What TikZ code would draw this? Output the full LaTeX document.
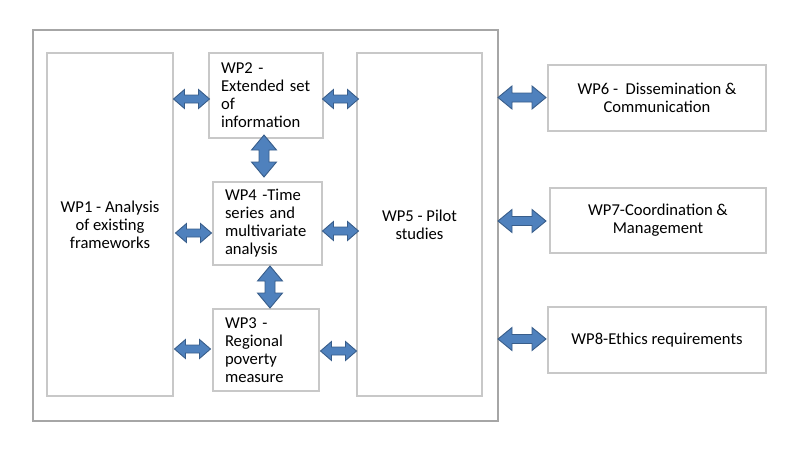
\documentclass[tikz,border=0pt]{standalone}
\usepackage{fontspec}
\setmainfont{Carlito}
\definecolor{arrfill}{HTML}{4F81BD}
\definecolor{arrline}{HTML}{385D8A}
\definecolor{boxline}{HTML}{C8C8C8}
\definecolor{outerline}{HTML}{A6A6A6}
% #1 name, #2 cx, #3 cy, #4 length, #5 head width, #6 shaft width, #7 head length, #8 rotation
\newcommand\blockarr[8]{%
  \coordinate (#1) at (#2,#3);
  \begin{scope}[shift={(#1)},rotate=#8]
    \draw[barrow] ({-#4/2},0) -- ({-#4/2+#7},{#5/2}) -- ({-#4/2+#7},{#6/2})
      -- ({#4/2-#7},{#6/2}) -- ({#4/2-#7},{#5/2}) -- ({#4/2},0)
      -- ({#4/2-#7},{-#5/2}) -- ({#4/2-#7},{-#6/2}) -- ({-#4/2+#7},{-#6/2})
      -- ({-#4/2+#7},{-#5/2}) -- cycle;
  \end{scope}}
\begin{document}
\begin{tikzpicture}[x=1pt,y=-1pt,
  wpbox/.style={draw=boxline,line width=1.3pt,rectangle,inner ysep=0pt,inner xsep=12pt,
    font=\fontsize{16.6}{18}\selectfont},
  lbox/.style={wpbox,align=left},
  cbox/.style={wpbox,align=center},
  barrow/.style={fill=arrfill,draw=arrline,line width=0.9pt,line join=miter}]
\useasboundingbox (0,0) rectangle (806,458);
\node[draw=outerline,line width=1.6pt,minimum width=465pt,minimum height=391pt,inner sep=0pt] (outer) at (265.5,225.5) {};
% inner boxes
\node[cbox,minimum width=126pt,minimum height=343pt] (wp1) at (110,224.5) {WP1 - Analysis\\of existing\\frameworks};
\node[lbox,text width=90pt,minimum height=85pt] (wp2) at (266,95.5) {WP2 -\\Extended set\\of\\information};
\node[lbox,text width=85pt,minimum height=83pt] (wp4) at (267.5,223.5) {WP4 -Time\\series and\\multivariate\\analysis};
\node[lbox,text width=82pt,minimum height=82pt] (wp3) at (266,350) {WP3 -\\Regional\\poverty\\measure};
\node[cbox,minimum width=125pt,minimum height=343pt] (wp5) at (419.5,224.5) {WP5 - Pilot\\studies};
% right boxes
\node[cbox,minimum width=218pt,minimum height=66pt] (wp6) at (657,98) {WP6 -\ \ Dissemination \&\\Communication};
\node[cbox,minimum width=216pt,minimum height=65pt] (wp7) at (658,220.5) {WP7-Coordination \&\\Management};
\node[cbox,minimum width=218pt,minimum height=66pt] (wp8) at (657,340) {WP8-Ethics requirements};
% arrows
\blockarr{a12}{191.5}{99}{36}{19}{8}{11}{0}
\blockarr{a25}{340.5}{99}{36}{19}{8}{11}{0}
\blockarr{a14}{193.5}{233}{36}{19}{8}{11}{0}
\blockarr{a45}{340.5}{231}{36}{19}{8}{11}{0}
\blockarr{a13}{192.5}{349}{36}{19}{8}{11}{0}
\blockarr{a35}{338.5}{351}{36}{19}{8}{11}{0}
\blockarr{a24}{264}{156}{42}{25}{10}{15}{90}
\blockarr{a43}{270}{287}{42}{25}{10}{15}{90}
\blockarr{r6}{522}{97.5}{48}{23}{9}{14}{0}
\blockarr{r7}{522}{221}{48}{23}{9}{14}{0}
\blockarr{r8}{522}{339}{48}{23}{9}{14}{0}
\end{tikzpicture}
\end{document}
